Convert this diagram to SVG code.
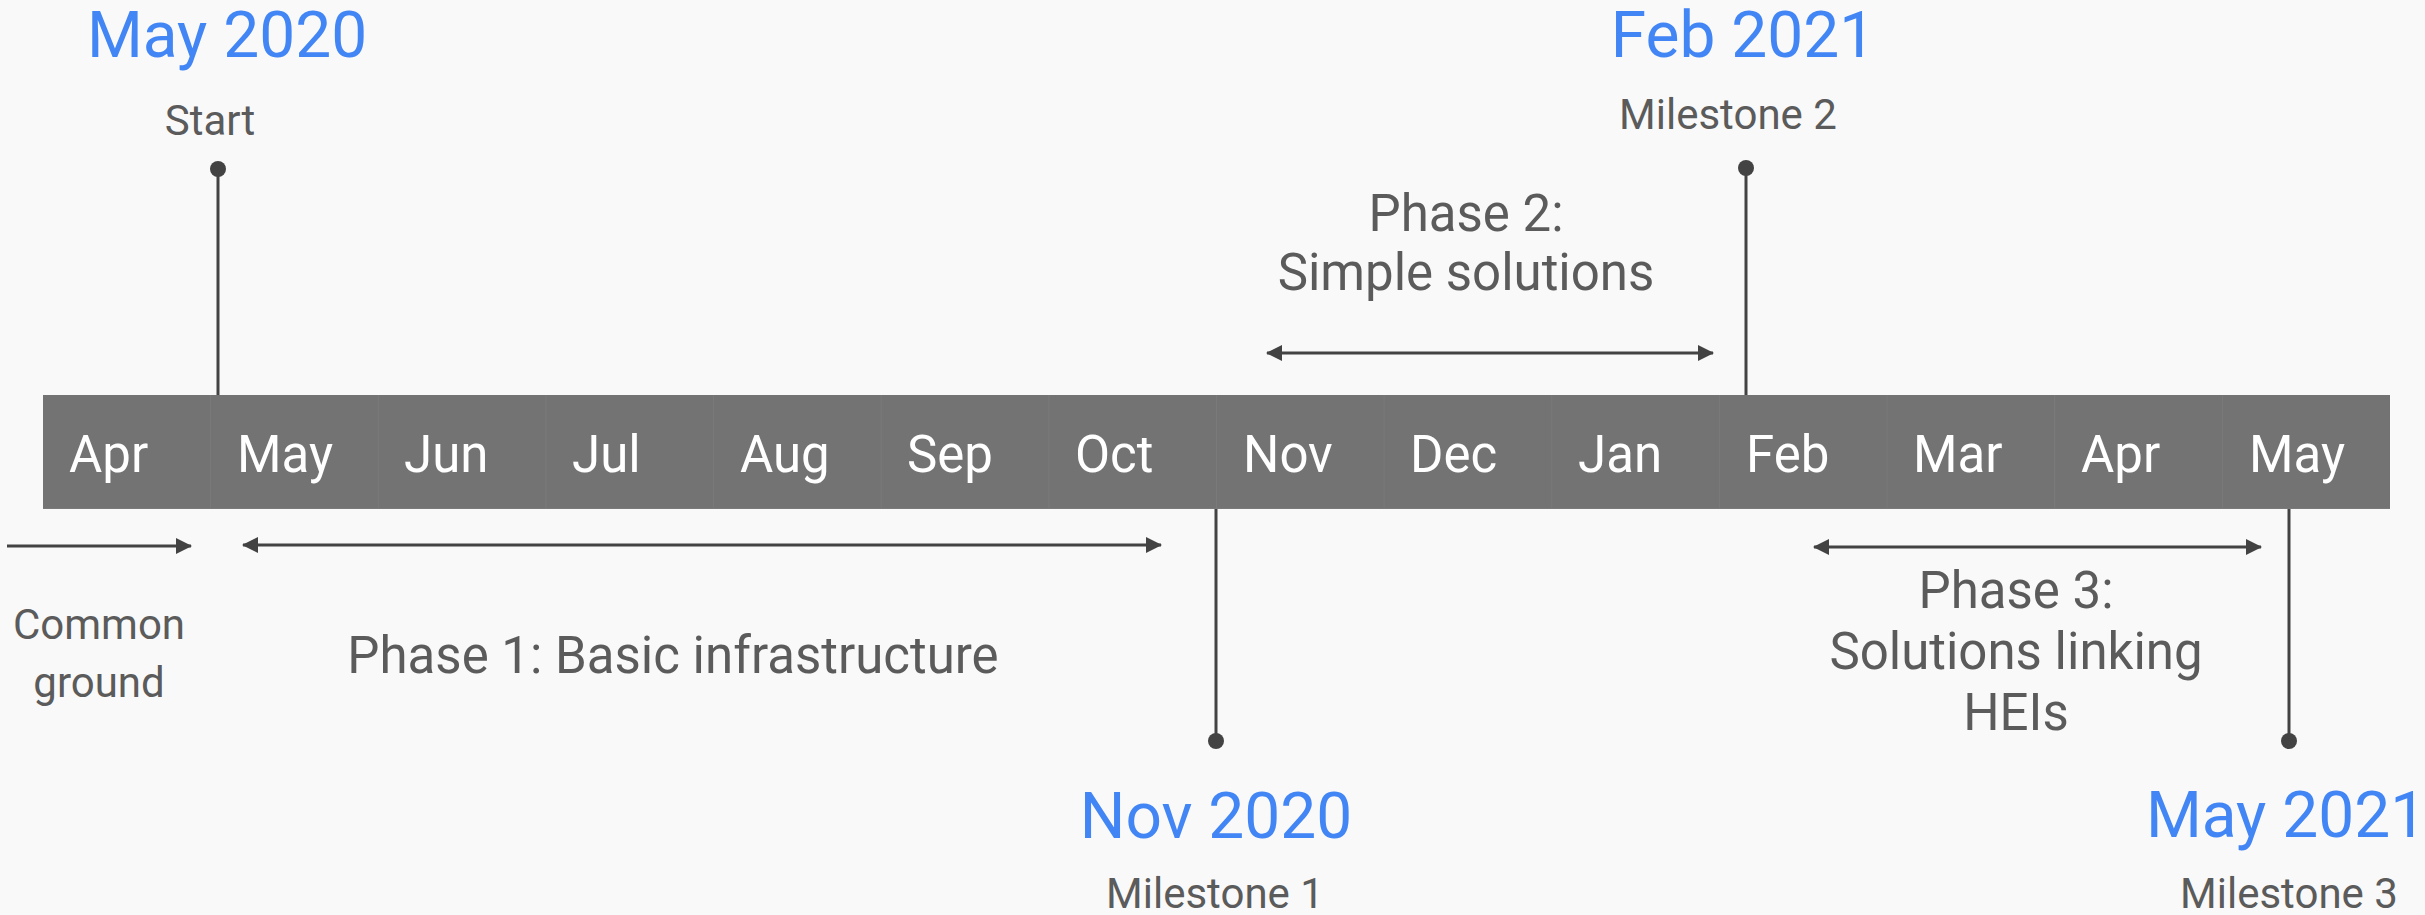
<svg xmlns="http://www.w3.org/2000/svg" width="2425" height="915" viewBox="0 0 2425 915">
<defs>
<style>
text{font-family:Roboto,"Liberation Sans",sans-serif}
.date{fill:#4285f4;font-size:64px;text-anchor:middle}
.sub{fill:#5b5b5b;font-size:42px;text-anchor:middle}
.phase{fill:#5b5b5b;font-size:51px;text-anchor:middle}
.month{fill:#ffffff;font-size:51px}
.ln{stroke:#434343;stroke-width:3;fill:none}
.dot{fill:#434343}
.div{stroke:#7a7a7a;stroke-width:1}
</style>
<marker id="ah" markerUnits="userSpaceOnUse" markerWidth="16" markerHeight="16" refX="15" refY="8" orient="auto-start-reverse">
<path d="M0,0 L16,8 L0,16 z" fill="#434343"/>
</marker>
</defs>
<rect width="2425" height="915" fill="#f9f9f9"/>

<g id="bar">
<rect x="43" y="395" width="2347" height="114" fill="#737373"/>
<line class="div" x1="43" y1="508.5" x2="2390" y2="508.5"/>
<line class="div" x1="210.6" y1="395" x2="210.6" y2="509"/>
<line class="div" x1="378.3" y1="395" x2="378.3" y2="509"/>
<line class="div" x1="545.9" y1="395" x2="545.9" y2="509"/>
<line class="div" x1="713.6" y1="395" x2="713.6" y2="509"/>
<line class="div" x1="881.2" y1="395" x2="881.2" y2="509"/>
<line class="div" x1="1048.9" y1="395" x2="1048.9" y2="509"/>
<line class="div" x1="1216.5" y1="395" x2="1216.5" y2="509"/>
<line class="div" x1="1384.1" y1="395" x2="1384.1" y2="509"/>
<line class="div" x1="1551.8" y1="395" x2="1551.8" y2="509"/>
<line class="div" x1="1719.4" y1="395" x2="1719.4" y2="509"/>
<line class="div" x1="1887.1" y1="395" x2="1887.1" y2="509"/>
<line class="div" x1="2054.7" y1="395" x2="2054.7" y2="509"/>
<line class="div" x1="2222.4" y1="395" x2="2222.4" y2="509"/>
<text class="month" x="69" y="472">Apr</text>
<text class="month" x="237" y="472">May</text>
<text class="month" x="404" y="472">Jun</text>
<text class="month" x="572" y="472">Jul</text>
<text class="month" x="740" y="472">Aug</text>
<text class="month" x="907" y="472">Sep</text>
<text class="month" x="1075" y="472">Oct</text>
<text class="month" x="1243" y="472">Nov</text>
<text class="month" x="1410" y="472">Dec</text>
<text class="month" x="1578" y="472">Jan</text>
<text class="month" x="1746" y="472">Feb</text>
<text class="month" x="1913" y="472">Mar</text>
<text class="month" x="2081" y="472">Apr</text>
<text class="month" x="2249" y="472">May</text>
</g>

<g id="start">
<text class="date" x="227" y="57">May 2020</text>
<text class="sub" x="210" y="135">Start</text>
</g>
<g id="milestone2">
<text class="date" x="1743" y="57">Feb 2021</text>
<text class="sub" x="1728" y="129">Milestone 2</text>
</g>
<g id="milestone1">
<text class="date" x="1216" y="838">Nov 2020</text>
<text class="sub" x="1215" y="908">Milestone 1</text>
</g>
<g id="milestone3">
<text class="date" x="2286" y="837">May 2021</text>
<text class="sub" x="2289" y="908">Milestone 3</text>
</g>
<g id="common">
<text class="sub" x="99" y="639">Common</text>
<text class="sub" x="99" y="697">ground</text>
</g>
<g id="phase1">
<text class="phase" x="673" y="673">Phase 1: Basic infrastructure</text>
</g>
<g id="phase2">
<text class="phase" x="1466" y="231">Phase 2:</text>
<text class="phase" x="1466" y="290">Simple solutions</text>
</g>
<g id="phase3">
<text class="phase" x="2016" y="608">Phase 3:</text>
<text class="phase" x="2016" y="669">Solutions linking</text>
<text class="phase" x="2016" y="730">HEIs</text>
</g>

<g id="connectors">
<line class="ln" x1="218" y1="169" x2="218" y2="395"/>
<circle class="dot" cx="218" cy="169" r="8"/>
<line class="ln" x1="1746" y1="168" x2="1746" y2="395"/>
<circle class="dot" cx="1746" cy="168" r="8"/>
<line class="ln" x1="1216" y1="509" x2="1216" y2="741"/>
<circle class="dot" cx="1216" cy="741" r="8"/>
<line class="ln" x1="2289" y1="509" x2="2289" y2="741"/>
<circle class="dot" cx="2289" cy="741" r="8"/>
<line class="ln" x1="7" y1="546" x2="191" y2="546" marker-end="url(#ah)"/>
<line class="ln" x1="243" y1="545" x2="1161" y2="545" marker-start="url(#ah)" marker-end="url(#ah)"/>
<line class="ln" x1="1267" y1="353" x2="1713" y2="353" marker-start="url(#ah)" marker-end="url(#ah)"/>
<line class="ln" x1="1814" y1="547" x2="2261" y2="547" marker-start="url(#ah)" marker-end="url(#ah)"/>
</g>
</svg>
